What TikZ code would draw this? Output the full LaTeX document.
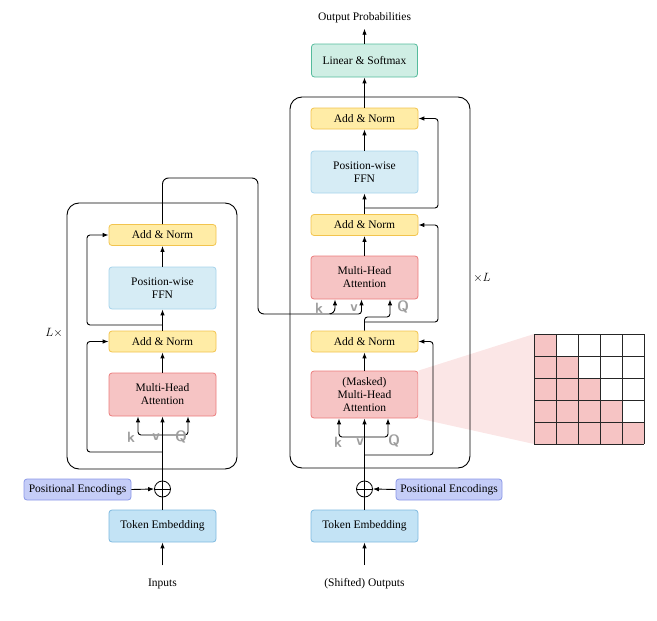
\documentclass[tikz,border=0pt]{standalone}
\usepackage{fontspec}
\setmainfont{Liberation Serif}
\usetikzlibrary{arrows.meta,calc}
\definecolor{anfill}{HTML}{FFECA6}
\definecolor{andraw}{HTML}{F2C44E}
\definecolor{fffill}{HTML}{D6ECF5}
\definecolor{ffdraw}{HTML}{A6D4EC}
\definecolor{mhfill}{HTML}{F6C4C4}
\definecolor{mhdraw}{HTML}{EB7D7D}
\definecolor{lnfill}{HTML}{CFEEE4}
\definecolor{lndraw}{HTML}{55BB9C}
\definecolor{tkfill}{HTML}{C3E3F5}
\definecolor{tkdraw}{HTML}{7EB9DF}
\definecolor{pefill}{HTML}{C5CDF7}
\definecolor{pedraw}{HTML}{8A97E8}
\definecolor{maskshade}{HTML}{FBE6E6}
\begin{document}
\begin{tikzpicture}[x=1pt,y=-1pt, font=\fontsize{11.5}{13}\selectfont,
  blk/.style={draw, rounded corners=3pt, line width=0.8pt, minimum width=107pt, align=center, inner sep=0pt},
  an/.style={blk, fill=anfill, draw=andraw, minimum height=21pt},
  ffn/.style={blk, fill=fffill, draw=ffdraw, minimum height=42pt},
  mha/.style={blk, fill=mhfill, draw=mhdraw, minimum height=43pt},
  lin/.style={blk, fill=lnfill, draw=lndraw, minimum height=33pt, minimum width=106pt},
  tok/.style={blk, fill=tkfill, draw=tkdraw, minimum height=32pt},
  pe/.style={blk, fill=pefill, draw=pedraw, minimum height=21pt},
  plus/.style={circle, draw, line width=0.8pt, minimum size=16pt, inner sep=0pt,
    path picture={\draw[line width=0.8pt] (path picture bounding box.north) -- (path picture bounding box.south)
      (path picture bounding box.west) -- (path picture bounding box.east);}},
  arr/.style={-{Latex[length=6pt,width=4.5pt]}, line width=0.9pt},
  ln/.style={line width=0.9pt},
  rc/.style={rounded corners=3pt},
  kv/.style={text=black!38, font=\sffamily\bfseries\fontsize{15}{15}\selectfont, inner sep=0pt},
  outer/.style={draw, line width=0.9pt, rounded corners=12pt}]
\useasboundingbox (0,0) rectangle (657,621);

% ---------- Encoder nodes ----------
\node[an]  (eAN2) at (162.5,235)   {Add \& Norm};
\node[ffn] (eFFN) at (162.5,288)   {Position-wise\\FFN};
\node[an]  (eAN1) at (162.5,341.5) {Add \& Norm};
\node[mha] (eMHA) at (162.5,394.5) {Multi-Head\\Attention};
\node[plus] (eplus) at (162.5,489) {};
\node[pe]  (epe)  at (77.5,489.5)  {Positional Encodings};
\node[tok] (etok) at (162.5,526)   {Token Embedding};
\node (einp) at (162.5,584) {Inputs};

% ---------- Decoder nodes ----------
\node[an]  (dAN3) at (364.5,118.5) {Add \& Norm};
\node[ffn] (dFFN) at (364.5,172)   {Position-wise\\FFN};
\node[an]  (dAN2) at (364.5,225)   {Add \& Norm};
\node[mha] (dMHA2) at (364.5,277.5) {Multi-Head\\Attention};
\node[an]  (dAN1) at (364.5,341.5) {Add \& Norm};
\node[mha, minimum height=47pt] (dMHA1) at (364.5,394.5) {(Masked)\\Multi-Head\\Attention};
\node[plus] (dplus) at (364.5,489) {};
\node[pe, minimum width=106pt] (dpe) at (449,489.5) {Positional Encodings};
\node[tok] (dtok) at (364.5,526)   {Token Embedding};
\node (dinp) at (364.5,584) {(Shifted) Outputs};
\node[lin] (lin) at (364.5,60.5) {Linear \& Softmax};
\node (outp) at (364.5,18) {Output Probabilities};

% ---------- mask shade and matrix ----------
\fill[maskshade] (dMHA1.north east) -- (534,334) -- (534,444) -- (dMHA1.south east) -- cycle;
\foreach \r in {0,...,4} {
  \foreach \c in {0,...,\r} {
    \fill[mhfill] ({534+22*\c},{334+22*\r}) rectangle ++(22,22);
  }
}
\foreach \i in {0,...,5} {
  \draw[line width=0.8pt, black!85] ({534+22*\i},334) -- ({534+22*\i},444);
  \draw[line width=0.8pt, black!85] (534,{334+22*\i}) -- (644,{334+22*\i});
}

% ---------- outer boxes ----------
\draw[outer] (67,203) rectangle (237,469);
\draw[outer] (290,97) rectangle (470,468);
\node at (54,333) {$L\times$};
\node at (482,278) {$\times L$};

% ---------- Encoder connectors ----------
\draw[arr] (einp.north) ++(0,-10) -- (etok.south);
\draw[ln] (etok.north) -- (eplus.south);
\draw[arr] (epe.east) -- (eplus.west);
\draw[arr] (eplus.north) -- (eMHA.south);
\coordinate (ekv) at (162.5,435);
\draw[arr,rc] (ekv) -| ([xshift=-24.5pt]eMHA.south);
\draw[arr,rc] (ekv) -| ([xshift=25.5pt]eMHA.south);
\draw[arr,rc] (162.5,452) -| (87,341.5) -- (eAN1.west);
\draw[arr] (eMHA.north) -- (eAN1.south);
\draw[arr] (eAN1.north) -- (eFFN.south);
\draw[arr,rc] (162.5,325) -| (87,235) -- (eAN2.west);
\draw[arr] (eFFN.north) -- (eAN2.south);
\draw[arr,rounded corners=6pt] (eAN2.north) |- (258,178) -- (258,314) -| ([xshift=-29.5pt]dMHA2.south);
\draw[arr,rc] (330,314) -| ([xshift=-3pt]dMHA2.south);

\node[kv] at (131,437) {k};
\node[kv] at (156,437) {v};
\node[kv] at (181,437) {Q};

% ---------- Decoder connectors ----------
\draw[arr] (dinp.north) ++(0,-10) -- (dtok.south);
\draw[ln] (dtok.north) -- (dplus.south);
\draw[arr] (dpe.west) -- (dplus.east);
\draw[arr] (dplus.north) -- (dMHA1.south);
\coordinate (dkv) at (364.5,437);
\draw[arr,rc] (dkv) -| ([xshift=-25.5pt]dMHA1.south);
\draw[arr,rc] (dkv) -| ([xshift=23.5pt]dMHA1.south);
\draw[arr,rc] (364.5,455) -| (433,341.5) -- (dAN1.east);
\draw[arr] (dMHA1.north) -- (dAN1.south);
\draw[arr,rc] (dAN1.north) -- (364.5,317) -| ([xshift=25.5pt]dMHA2.south);
\draw[arr,rc] (364.5,322) -| (438,225) -- (dAN2.east);
\draw[arr] (dMHA2.north) -- (dAN2.south);
\draw[arr] (dAN2.north) -- (dFFN.south);
\draw[arr,rc] (364.5,208) -| (438,118.5) -- (dAN3.east);
\draw[arr] (dFFN.north) -- (dAN3.south);
\draw[arr] (dAN3.north) -- (lin.south);
\draw[arr, shorten >=2pt] (lin.north) -- (outp.south);

\node[kv] at (338,442) {k};
\node[kv] at (360,442) {v};
\node[kv] at (394,441) {Q};
\node[kv] at (319,308) {k};
\node[kv] at (354,308) {v};
\node[kv] at (403,307) {Q};
\end{tikzpicture}
\end{document}
